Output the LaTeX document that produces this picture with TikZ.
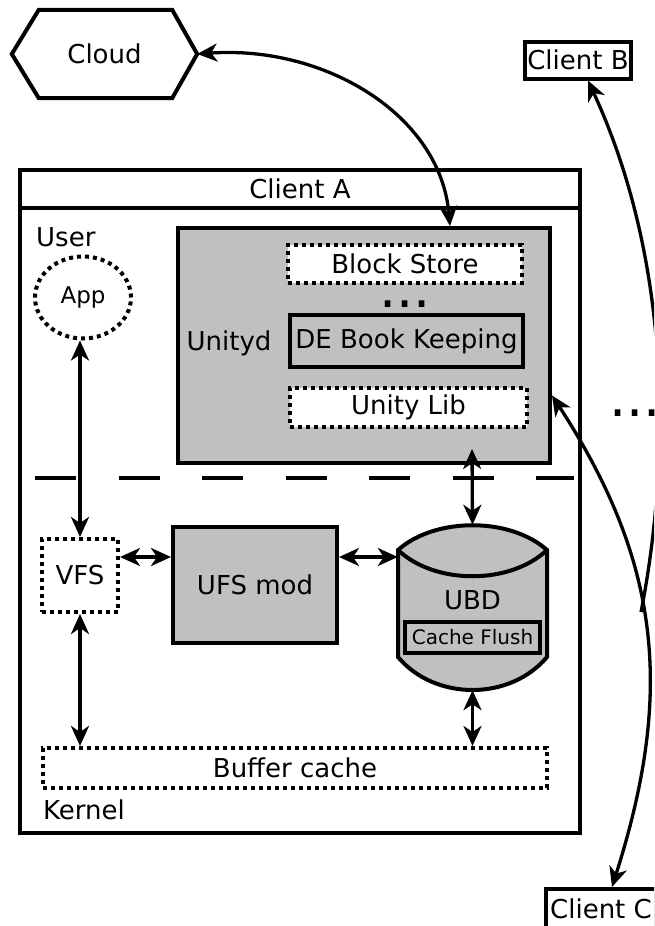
\documentclass[tikz,border=0pt]{standalone}
\usepackage{fontspec}
\setmainfont{DejaVu Sans}
\usetikzlibrary{arrows.meta,shapes.geometric,calc}
\definecolor{ubgray}{RGB}{192,192,192}
\newcommand\ubfont{\fontsize{26}{30}\selectfont}
\tikzset{
  every node/.style={inner sep=0pt, font=\ubfont},
  solidbox/.style={draw, rectangle, line width=4pt, fill=ubgray},
  dotbox/.style={draw, rectangle, line width=4pt, dash pattern=on 4pt off 4pt, fill=white},
  whitebox/.style={draw, rectangle, line width=4pt, fill=white},
  link/.style={line width=3.3pt},
  bigdots/.style={anchor=base, font=\fontsize{54}{54}\selectfont, text height=8pt, text depth=0pt}
}
\begin{document}
\begin{tikzpicture}[x=1pt, y=1pt, >={Stealth[length=20pt,width=18pt,inset=6pt]}]
\useasboundingbox (0,0) rectangle (654,-926);
\clip (0,0) rectangle (654,-926);

% Client A frame
\draw[line width=4pt] (20,-170) rectangle (580,-833);
\draw[line width=4pt] (20,-208) -- (580,-208);
\node (clientA) at (300,-189) {Client A};
\node[anchor=west] (user) at (36,-237) {User};
\node[anchor=west] (kernel) at (43,-810) {Kernel};
\draw[line width=4pt, dash pattern=on 41pt off 42.5pt] (35,-478) -- (574,-478);

% Cloud
\node[minimum width=185pt, minimum height=88pt] (cloud) at (104.5,-54) {Cloud};
\draw[line width=4pt, line join=miter] (cloud.west) -- ([xshift=27pt]cloud.north west) -- ([xshift=-25pt]cloud.north east) -- (cloud.east) -- ([xshift=-25pt]cloud.south east) -- ([xshift=27pt]cloud.south west) -- cycle;

% Other clients
\node[whitebox, minimum width=106pt, minimum height=37pt] (clientB) at (578,-60) {Client B};
\node[whitebox, minimum width=110pt, minimum height=40pt] (clientC) at (601,-909) {Client C};

% Unityd
\node[solidbox, minimum width=372pt, minimum height=235pt] (unityd) at (364,-345.5) {};
\node (unitydlabel) at (229,-343) {Unityd};
\node[dotbox, minimum width=234pt, minimum height=38pt] (blockstore) at (405,-264) {Block Store};
\node[bigdots] (dots1) at (405,-307) {...};
\node[solidbox, minimum width=233pt, minimum height=52pt] (debk) at (406.5,-341) {DE Book Keeping};
\node[dotbox, minimum width=237pt, minimum height=39pt] (unitylib) at (408.5,-407.5) {Unity Lib};

% App
\node[draw, ellipse, line width=4pt, dash pattern=on 4pt off 4pt, minimum width=96pt, minimum height=82pt, font=\fontsize{23}{27}\selectfont] (app) at (83,-297.5) {App};

% Kernel side
\node[dotbox, minimum width=76pt, minimum height=73pt] (vfs) at (80,-575.5) {VFS};
\node[solidbox, minimum width=164pt, minimum height=116pt] (ufs) at (255,-585) {UFS mod};
\node[minimum width=149pt, minimum height=165pt] (ubd) at (472.5,-607.5) {};
\draw[line width=4pt, fill=ubgray, line join=miter] (398,-550) .. controls (435,-517) and (510,-517) .. (547,-550) -- (547,-657) .. controls (510,-701) and (435,-701) .. (398,-657) -- cycle;
\draw[line width=4pt] (398,-550) .. controls (435,-585) and (510,-585) .. (547,-550);
\node (ubdlabel) at (472.5,-600) {UBD};
\node[solidbox, minimum width=135pt, minimum height=31pt, font=\fontsize{20}{24}\selectfont] (cacheflush) at (472.5,-637.5) {Cache Flush};
\node[dotbox, minimum width=504pt, minimum height=40pt] (buffer) at (295,-768) {Buffer cache};

% right dots
\node[bigdots] (dots2) at (635,-416) {...};

% connectors
\coordinate (ufsW) at ([yshift=28pt]ufs.west);
\coordinate (ufsE) at ([yshift=28pt]ufs.east);
\coordinate (ulB) at ([xshift=63.5pt,yshift=-20pt]unitylib.south);
\coordinate (udTop) at ([xshift=86pt]unityd.north);
\coordinate (udE) at ([yshift=-50pt]unityd.east);
\coordinate (ccN) at ([xshift=11pt]clientC.north);
\coordinate (cbS) at ([xshift=10pt]clientB.south);
\coordinate (hub) at (641,-612);

\draw[link,<->] (app.south -| vfs.north) -- (vfs.north);
\draw[link,<->] (vfs.south) -- (vfs.south |- buffer.north);
\draw[link,<->] (vfs.east |- ufsW) -- (ufsW);
\draw[link,<->] (ufsE) -- (ubd.west |- ufsE);
\draw[link,<->] (ulB) -- (ubd.north);
\draw[link,<->] (ubd.south) -- (buffer.north -| ubd.south);
\draw[link,<->] (cloud.east) .. controls (325,-45) and (440,-115) .. (udTop);
\draw[link,<->] (udE) .. controls (664,-567) and (672,-698) .. (ccN);
\draw[link,->] (hub) .. controls (665,-490) and (680,-280) .. (cbS);
\end{tikzpicture}
\end{document}
